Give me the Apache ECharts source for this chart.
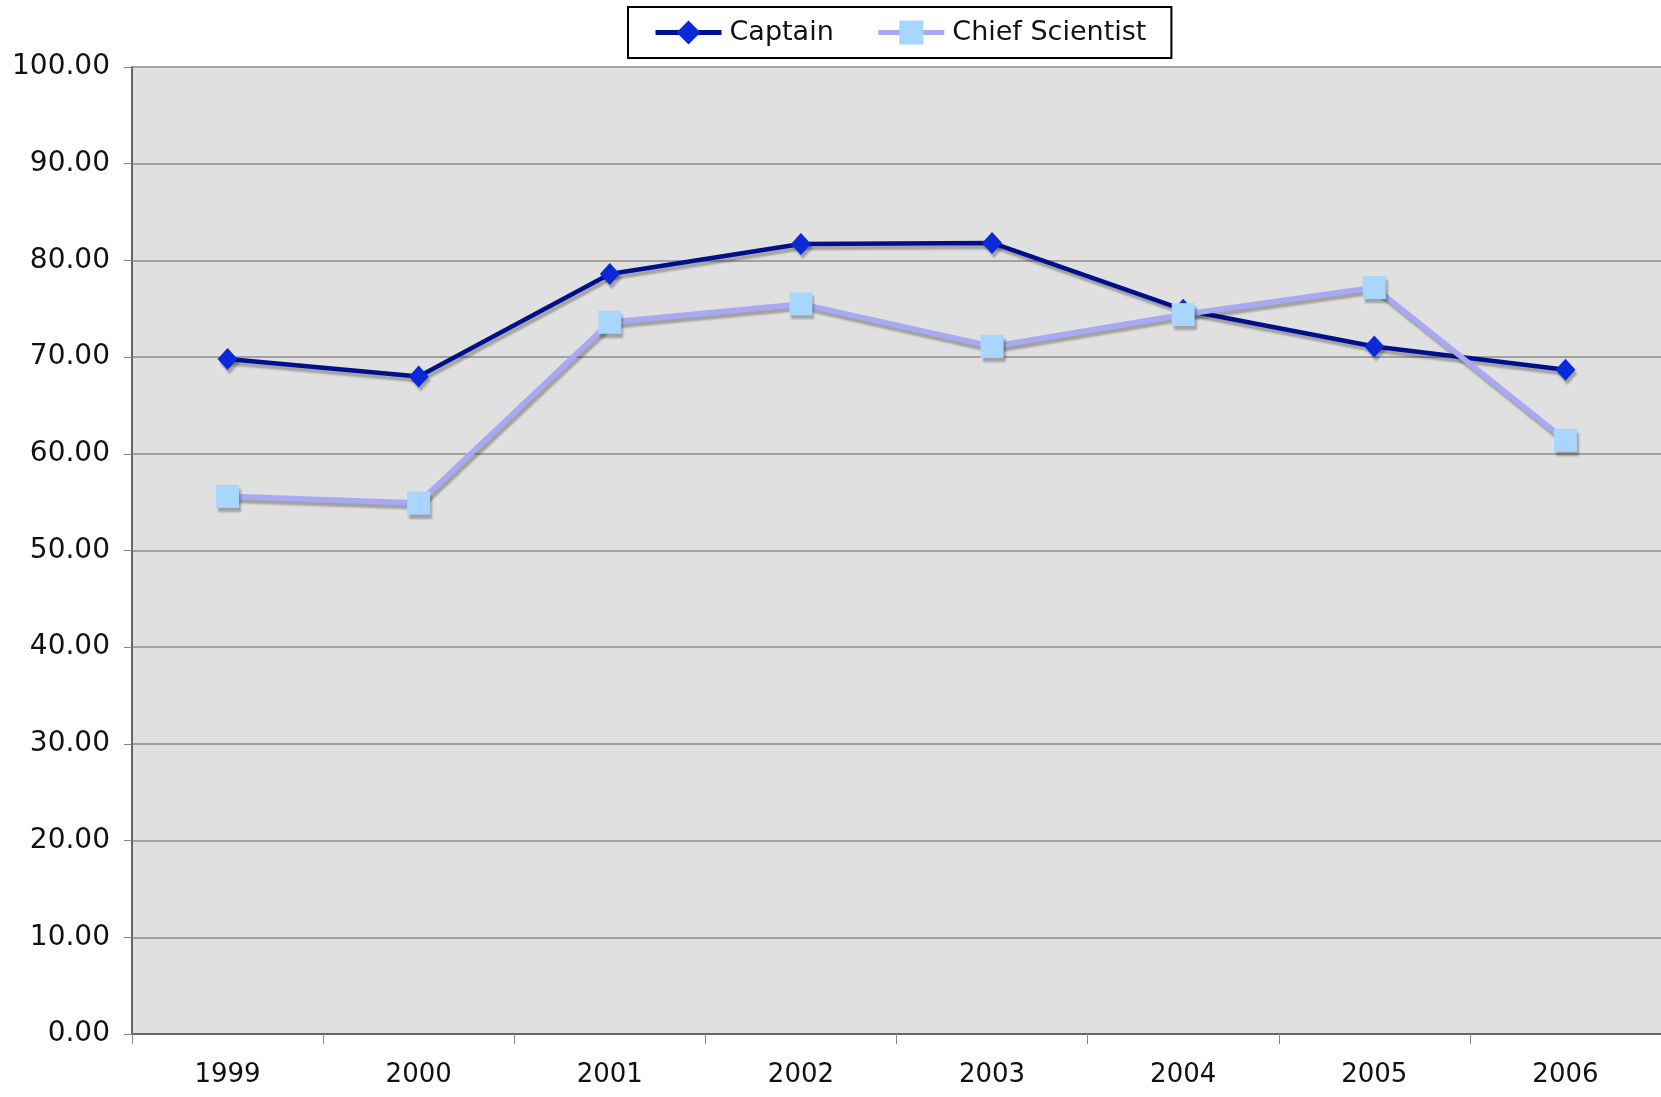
<!DOCTYPE html>
<html>
<head>
<meta charset="utf-8">
<style>
  html, body { margin: 0; padding: 0; background: #fff; }
  #chart { width: 1661px; height: 1097px; }
</style>
<script src="https://cdn.jsdelivr.net/npm/echarts@6/dist/echarts.min.js"></script>
</head>
<body>
<div id="chart"></div>
<script>
// chart data
var years = ['1999', '2000', '2001', '2002', '2003', '2004', '2005', '2006']
var captain = [69.8, 68.0, 78.6, 81.7, 81.8, 74.9, 71.1, 68.7]
var chiefScientist = [55.6, 54.9, 73.6, 75.5, 71.1, 74.4, 77.2, 61.4]
var yTicks = { min: 0, max: 100, interval: 10 }

var font = 'DejaVu Sans'
var shadow = {
  shadowColor: 'rgba(0,0,0,0.28)',
  shadowBlur: 2,
  shadowOffsetX: 2,
  shadowOffsetY: 4
}
var captainLine = '#00108c'
var chiefLine = '#a8a8f4'

var myChart = echarts.init(document.getElementById('chart'))
var option = {
  animation: false,
  textStyle: { fontFamily: font },
  legend: {
    top: 7,
    left: 628,
    padding: [12, 25],
    itemGap: 42,
    itemWidth: 66,
    itemHeight: 30,
    backgroundColor: '#fff',
    borderColor: '#000',
    borderWidth: 2,
    borderRadius: 0,
    textStyle: { fontSize: 27, color: '#111', fontFamily: font, padding: [0, 0, 0, 3] },
    data: [
      { name: 'Captain', lineStyle: { width: 5, color: captainLine } },
      { name: 'Chief Scientist', lineStyle: { width: 5, color: chiefLine } }
    ]
  },
  grid: {
    left: 132,
    top: 67,
    width: 1533,
    height: 967,
    show: true,
    backgroundColor: '#e0e0e0',
    borderWidth: 0
  },
  xAxis: {
    type: 'category',
    data: years,
    boundaryGap: true,
    axisLine: { lineStyle: { color: '#666', width: 2 } },
    axisTick: { show: true, length: 10, lineStyle: { color: '#888', width: 1 } },
    axisLabel: { fontSize: 26, color: '#111', margin: 28, fontFamily: font }
  },
  yAxis: {
    type: 'value',
    min: yTicks.min,
    max: yTicks.max,
    interval: yTicks.interval,
    axisLine: { show: true, lineStyle: { color: '#666', width: 2 } },
    axisTick: { show: true, length: 8, lineStyle: { color: '#888', width: 1 } },
    splitLine: { show: true, lineStyle: { color: '#8c8c8c', width: 1.5 } },
    axisLabel: {
      fontSize: 28,
      color: '#111',
      margin: 22,
      fontFamily: font,
      formatter: function (v) { return v.toFixed(2) }
    }
  },
  series: [
    {
      name: 'Captain',
      type: 'line',
      data: captain,
      symbol: 'diamond',
      symbolSize: [20, 22],
      lineStyle: Object.assign({ color: captainLine, width: 4.5 }, shadow),
      itemStyle: Object.assign({ color: '#0a2ad8' }, shadow)
    },
    {
      name: 'Chief Scientist',
      type: 'line',
      data: chiefScientist,
      symbol: 'rect',
      symbolSize: 23,
      lineStyle: Object.assign({ color: chiefLine, width: 5.5 }, shadow),
      itemStyle: Object.assign({ color: '#a8d6ff' }, shadow)
    }
  ]
}
myChart.setOption(option)
</script>
</body>
</html>
